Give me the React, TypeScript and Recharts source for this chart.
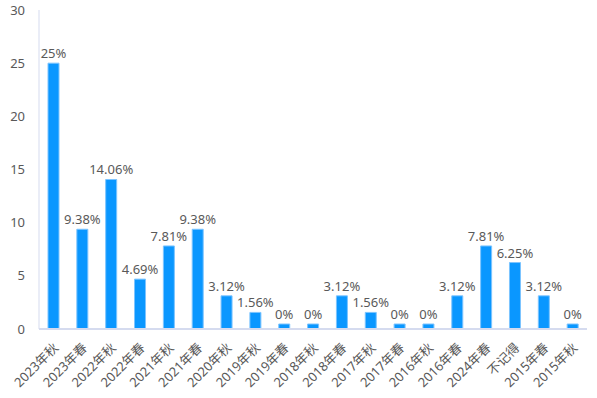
import React from 'react';
import { BarChart, Bar, XAxis, YAxis, LabelList } from 'recharts';

const categories = [
  '2023年秋', '2023年春', '2022年秋', '2022年春', '2021年秋', '2021年春', '2020年秋',
  '2019年秋', '2019年春', '2018年秋', '2018年春', '2017年秋', '2017年春', '2016年秋',
  '2016年春', '2024年春', '不记得', '2015年春', '2015年秋'
];
const percents = [25, 9.38, 14.06, 4.69, 7.81, 9.38, 3.12, 1.56, 0, 0, 3.12, 1.56, 0, 0, 3.12, 7.81, 6.25, 3.12, 0];
const yTicks = [0, 5, 10, 15, 20, 25, 30];

const data = categories.map((name, i) => ({ name, value: percents[i] }));

if (typeof document !== 'undefined') {
  document.body.style.margin = '0';
}

const FONT = '"Noto Sans", "Noto Sans CJK SC", sans-serif';

const XTick = (props: any) => {
  const { x, y, payload } = props;
  return (
    <g transform={`translate(${x},${y + 6})`}>
      <text
        x={0}
        y={0}
        dy={8}
        textAnchor="end"
        transform="rotate(-45)"
        fill="#595959"
        fontSize={13}
        fontFamily={FONT}
      >
        {payload.value}
      </text>
    </g>
  );
};

export default function App() {
  return (
    <div style={{ width: 597, height: 398, background: '#fff', fontFamily: FONT }}>
      <BarChart
        width={597}
        height={398}
        data={data}
        margin={{ top: 10, right: 10, left: 8, bottom: 0 }}
      >
        <XAxis
          dataKey="name"
          interval={0}
          height={69}
          tickLine={false}
          axisLine={{ stroke: '#d5dbef', strokeWidth: 2 }}
          tick={<XTick />}
        />
        <YAxis
          domain={[0, 30]}
          ticks={yTicks}
          width={31}
          tickLine={false}
          axisLine={{ stroke: '#d5dbef' }}
          tick={{ fill: '#595959', fontSize: 13, fontFamily: FONT }}
          tickMargin={8}
        />
        <Bar
          dataKey="value"
          fill="#0a97ff"
          stroke="#7cc4ff"
          strokeWidth={1}
          barSize={11}
          minPointSize={5}
          isAnimationActive={false}
        >
          <LabelList
            dataKey="value"
            position="top"
            offset={5}
            formatter={(v: any) => `${v}%`}
            style={{ fill: '#595959', fontSize: 13, fontFamily: FONT }}
          />
        </Bar>
      </BarChart>
    </div>
  );
}
